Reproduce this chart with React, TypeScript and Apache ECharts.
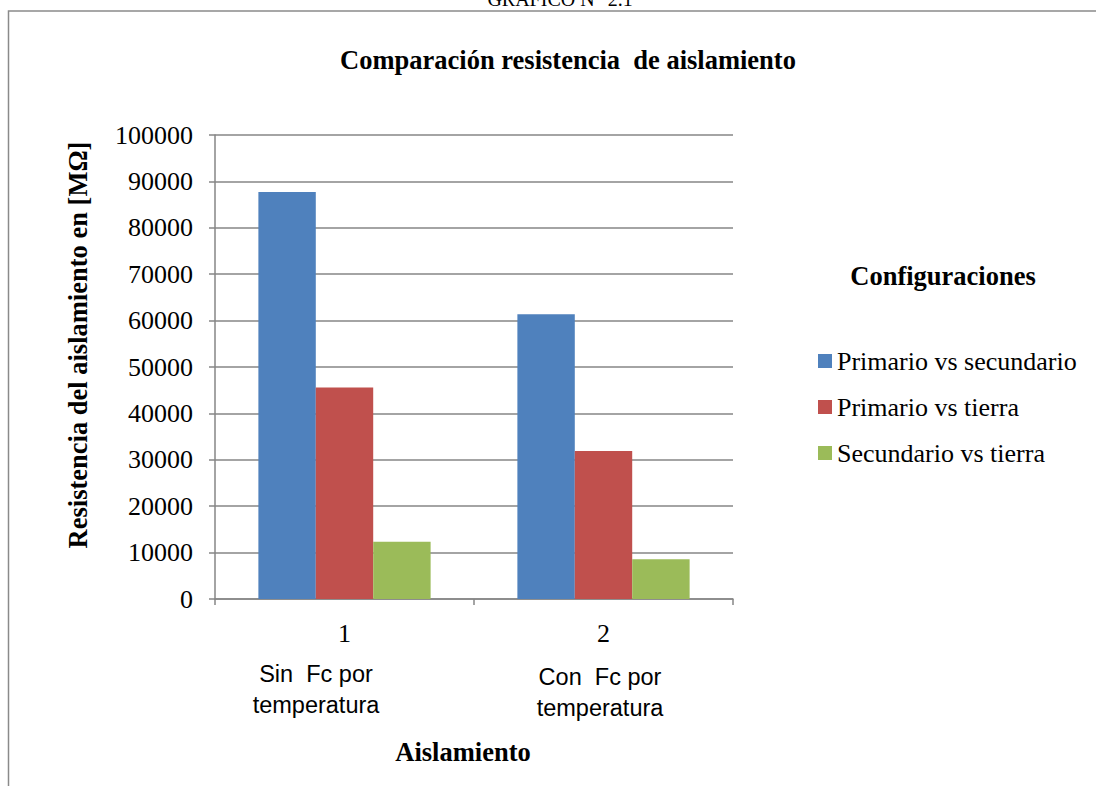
import React, { useEffect, useRef } from "react";
import * as echarts from "echarts";

const categories = ["1", "2"];
const seriesNames = ["Primario vs secundario", "Primario vs tierra", "Secundario vs tierra"];
const primarioSecundario = [87700, 61350];
const primarioTierra = [45600, 31900];
const secundarioTierra = [12350, 8550];
const colors = ["#4F81BD", "#C0504D", "#9BBB59"];
const subLabels = [["Sin  Fc por", "temperatura"], ["Con  Fc por", "temperatura"]];

const serif = "'Liberation Serif', 'Times New Roman', serif";
const sans = "'Liberation Sans', Arial, sans-serif";

export default function App() {
  const ref = useRef<HTMLDivElement>(null);
  useEffect(() => {
    document.body.style.margin = "0";
    const chart = echarts.init(ref.current!, null, { renderer: "svg" });
    const values = [primarioSecundario, primarioTierra, secundarioTierra];
    chart.setOption({
      animation: false,
      backgroundColor: "#ffffff",
      grid: { left: 215, right: 363, top: 135, bottom: 187, containLabel: false },
      legend: {
        orient: "vertical",
        left: 813,
        top: 341,
        itemWidth: 14,
        itemHeight: 14,
        itemGap: 16,
        icon: "rect",
        textStyle: { fontFamily: serif, fontSize: 26, color: "#000", lineHeight: 30 },
        data: seriesNames,
      },
      xAxis: {
        type: "category",
        data: categories,
        axisLine: { lineStyle: { color: "#868686", width: 1.5 } },
        axisTick: { show: true, length: 6, inside: false, alignWithLabel: false, lineStyle: { color: "#868686", width: 1.5 } },
        axisLabel: { fontFamily: serif, fontSize: 26, color: "#000", margin: 21 },
      },
      yAxis: {
        type: "value",
        min: 0,
        max: 100000,
        interval: 10000,
        axisLine: { show: true, lineStyle: { color: "#868686", width: 1.5 } },
        axisTick: { show: true, length: 6, lineStyle: { color: "#868686", width: 1.5 } },
        axisLabel: { fontFamily: serif, fontSize: 26, color: "#000", margin: 22, formatter: (v: number) => String(v) },
        splitLine: { show: true, lineStyle: { color: "#868686", width: 1.5 } },
      },
      series: seriesNames.map((name, i) => ({
        name,
        type: "bar",
        data: values[i],
        barGap: "0%",
        barCategoryGap: "33.5%",
        itemStyle: { color: colors[i] },
      })),
      graphic: [
        {
          type: "rect",
          shape: { x: 8.5, y: 11, width: 1200, height: 900 },
          style: { fill: "none", stroke: "#8a8a8a", lineWidth: 1.5 },
          silent: true,
        },
        {
          type: "text",
          x: 560,
          y: 9,
          style: { text: "GRÁFICO N° 2.1", fontFamily: serif, fontSize: 20, fill: "#000", align: "center", verticalAlign: "bottom" },
        },
        {
          type: "text",
          x: 568,
          y: 60,
          style: { text: "Comparación resistencia  de aislamiento", fontFamily: serif, fontSize: 26.5, fontWeight: "bold", fill: "#000", align: "center", verticalAlign: "middle" },
        },
        {
          type: "text",
          x: 78,
          y: 345,
          rotation: Math.PI / 2,
          style: { text: "Resistencia del aislamiento en [MΩ]", fontFamily: serif, fontSize: 26.5, fontWeight: "bold", fill: "#000", align: "center", verticalAlign: "middle" },
        },
        {
          type: "text",
          x: 943,
          y: 276,
          style: { text: "Configuraciones", fontFamily: serif, fontSize: 26.5, fontWeight: "bold", fill: "#000", align: "center", verticalAlign: "middle" },
        },
        {
          type: "text",
          x: 463,
          y: 752,
          style: { text: "Aislamiento", fontFamily: serif, fontSize: 26.5, fontWeight: "bold", fill: "#000", align: "center", verticalAlign: "middle" },
        },
        {
          type: "text",
          x: 316,
          y: 689,
          style: { text: subLabels[0].join("\n"), fontFamily: sans, fontSize: 23.5, lineHeight: 31, fill: "#000", align: "center", verticalAlign: "middle" },
        },
        {
          type: "text",
          x: 600,
          y: 692,
          style: { text: subLabels[1].join("\n"), fontFamily: sans, fontSize: 23.5, lineHeight: 31, fill: "#000", align: "center", verticalAlign: "middle" },
        },
      ],
    });
    return () => chart.dispose();
  }, []);
  return <div ref={ref} style={{ width: 1096, height: 786 }} />;
}
